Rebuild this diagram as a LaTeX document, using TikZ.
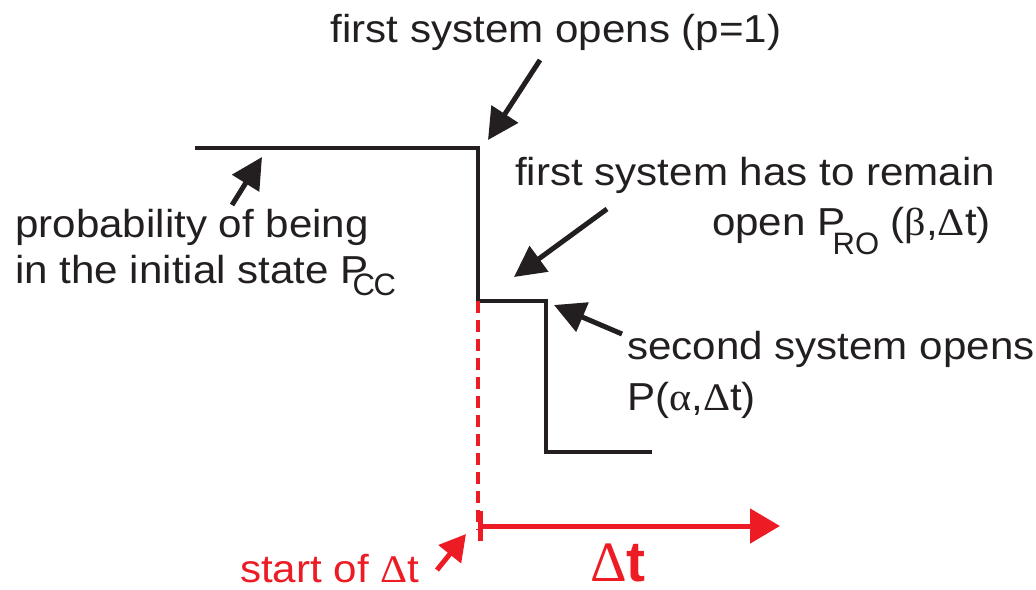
\documentclass[tikz,border=0pt]{standalone}
\usepackage{fontspec}
\setmainfont{Liberation Sans}[FakeStretch=1.08]
\newfontfamily\grk{Liberation Serif}[FakeStretch=1.08]
\newfontfamily\grkplain{Liberation Serif}
\newfontfamily\subfont{Liberation Sans}
\usetikzlibrary{arrows.meta}
\definecolor{ink}{HTML}{231F20}
\definecolor{rd}{HTML}{ED1C24}
% subscript: #1 kern before, #2 drop, #3 text
\newcommand{\subtxt}[3]{\kern#1\raisebox{-#2}{\subfont\fontsize{31}{31}\selectfont #3}}
\begin{document}
\begin{tikzpicture}[x=1pt,y=-1pt,
  lbl/.style={inner sep=0pt, text=ink, font=\fontsize{39}{44}\selectfont},
  rlbl/.style={inner sep=0pt, text=rd, font=\fontsize{39}{44}\selectfont},
  curve/.style={draw=ink, line width=4.5pt},
  ptr/.style={draw=ink, line width=5pt, -{Triangle[length=31pt,width=31pt]}},
  rptr/.style={draw=rd, line width=5pt, -{Triangle[length=26pt,width=28pt]}},
  axisarrow/.style={draw=rd, line width=5pt, {Bar[width=30pt]}-{Triangle[length=30pt,width=34pt]}},
  dashline/.style={draw=rd, line width=4pt, dash pattern=on 12pt off 7pt}]
\useasboundingbox (0,0) rectangle (1036,589);

% step curve
\coordinate (c0) at (195,148);
\coordinate (c1) at (478,148);
\coordinate (c2) at (478,301);
\coordinate (c3) at (546,301);
\coordinate (c4) at (546,452);
\coordinate (c5) at (652,452);
\draw[curve] (c0) -- (c1) -- (c2) -- (c3) -- (c4) -- (c5);

% red dashed line and time axis
\coordinate (d1) at (478,530);
\draw[dashline] (c2) -- (d1);
\coordinate (ax0) at (478,526);
\coordinate (ax1) at (780,526);
\draw[axisarrow] (ax0) -- (ax1);

% labels
\node[lbl, anchor=base] (top) at (556,42) {first system opens (p=1)};
\node[lbl, anchor=base west] (prob1) at (15,237) {probability of being};
\node[lbl, anchor=base west] (prob2) at (15,283) {in the initial state P\subtxt{-16pt}{12pt}{C\kern-1.5pt C}};
\node[lbl, anchor=base west] (rem1) at (515,185) {first system has to remain};
\node[lbl, anchor=base east] (rem2) at (991,235) {open P\subtxt{-13pt}{19pt}{RO} ({\grk β},{\grk Δ}t)};
\node[lbl, anchor=base west] (sec1) at (627,359) {second system opens};
\node[lbl, anchor=base west] (sec2) at (627,410) {P({\grk α},{\grk Δ}t)};
\node[rlbl, anchor=base west] (start) at (240,582) {start of {\grk Δ}t};
\node[inner sep=0pt, text=rd, anchor=base, font=\fontsize{57}{60}\selectfont] (dt) at (618,581) {{\grkplain Δ}{\subfont\bfseries t}};

% pointer arrows
\coordinate (a1s) at (540,60);  \coordinate (a1e) at (488,140);
\coordinate (a2s) at (232,205); \coordinate (a2e) at (262,157);
\coordinate (a3s) at (607,209); \coordinate (a3e) at (514,277);
\coordinate (a4s) at (622,334); \coordinate (a4e) at (554,305);
\coordinate (a5s) at (437,570); \coordinate (a5e) at (466,534);
\draw[ptr] (a1s) -- (a1e);
\draw[ptr] (a2s) -- (a2e);
\draw[ptr] (a3s) -- (a3e);
\draw[ptr] (a4s) -- (a4e);
\draw[rptr] (a5s) -- (a5e);
\end{tikzpicture}
\end{document}
